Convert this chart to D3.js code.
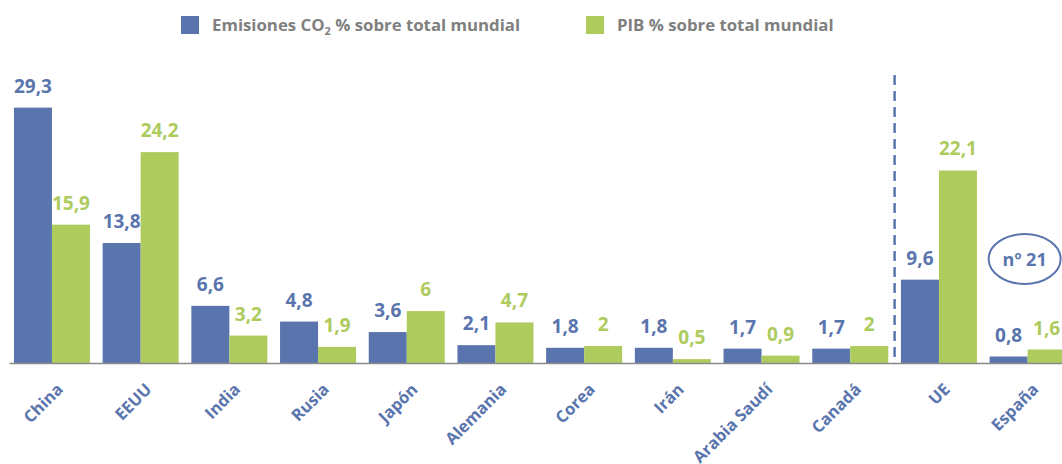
<!DOCTYPE html>
<html>
<head>
<meta charset="utf-8">
<script src="https://cdn.jsdelivr.net/npm/d3@7"></script>
<style>
  html, body { margin: 0; padding: 0; background: #ffffff; }
  svg { display: block; font-family: "Open Sans", "DejaVu Sans", sans-serif; }
</style>
</head>
<body>
<svg id="chart" width="1062" height="464"></svg>
<script>
// Emisiones de CO2 y PIB, % sobre el total mundial
const countries = ["China", "EEUU", "India", "Rusia", "Japón", "Alemania", "Corea", "Irán", "Arabia Saudí", "Canadá", "UE", "España"];
const co2 = [29.3, 13.8, 6.6, 4.8, 3.6, 2.1, 1.8, 1.8, 1.7, 1.7, 9.6, 0.8];
const pib = [15.9, 24.2, 3.2, 1.9, 6, 4.7, 2, 0.5, 0.9, 2, 22.1, 1.6];
const seriesKeys = ["co2", "pib"];
const seriesNames = ["Emisiones CO", "PIB % sobre total mundial"];
const rankLabel = "nº 21";

const BLUE = "#5a75ae";
const GREEN = "#aecb5e";
const colors = { co2: BLUE, pib: GREEN };

const rows = countries.map((c, i) => ({ country: c, co2: co2[i], pib: pib[i] }));

const svg = d3.select("#chart");
const baseline = 363.5;

const x = d3.scaleBand().domain(countries).range([7.6, 1072]).paddingInner(0.143).paddingOuter(0.0715);
const xs = d3.scaleBand().domain(seriesKeys).range([0, x.bandwidth()]);
const y = d3.scaleLinear().domain([0, 30]).range([baseline, baseline - 262]);

const fmt = v => String(v).replace(".", ",");

// bars
const groups = svg.append("g").selectAll("g")
  .data(rows).join("g")
  .attr("transform", d => `translate(${x(d.country)},0)`);

groups.selectAll("rect")
  .data(d => seriesKeys.map(k => ({ key: k, value: d[k] })))
  .join("rect")
  .attr("x", d => xs(d.key))
  .attr("y", d => y(d.value))
  .attr("width", xs.bandwidth())
  .attr("height", d => y(0) - y(d.value))
  .attr("fill", d => colors[d.key]);

// value labels
groups.selectAll("text")
  .data(d => seriesKeys.map(k => ({ key: k, value: d[k] })))
  .join("text")
  .attr("x", d => xs(d.key) + xs.bandwidth() / 2)
  .attr("y", d => y(d.value) - 15)
  .attr("text-anchor", "middle")
  .attr("font-size", 19)
  .attr("font-weight", 700)
  .attr("fill", d => colors[d.key])
  .text(d => fmt(d.value));

// baseline axis
const xAxis = d3.axisBottom(x).tickSize(0).tickPadding(0);
const axisG = svg.append("g").attr("transform", `translate(0,${baseline})`).call(xAxis);
axisG.select(".domain").attr("d", "M9.5,0H1062").attr("stroke", "#8a8a8a").attr("stroke-width", 1.5);
axisG.selectAll(".tick text")
  .attr("transform", "translate(12,27) rotate(-45)")
  .attr("text-anchor", "end")
  .attr("dy", 0)
  .attr("y", 0)
  .attr("font-family", "'Open Sans', sans-serif")
  .attr("font-size", 16.5)
  .attr("font-weight", 700)
  .attr("fill", BLUE);

// separator between countries and UE
const sepX = (x("Canadá") + x.bandwidth() + x("UE")) / 2;
svg.append("line")
  .attr("x1", sepX).attr("x2", sepX)
  .attr("y1", 75).attr("y2", baseline)
  .attr("stroke", BLUE).attr("stroke-width", 2.5)
  .attr("stroke-dasharray", "10,6");

// rank badge for España
const espX = x("España") + x.bandwidth() / 2;
const badge = svg.append("g").attr("transform", `translate(${espX - 3},259)`);
badge.append("ellipse").attr("rx", 36).attr("ry", 25)
  .attr("fill", "none").attr("stroke", BLUE).attr("stroke-width", 2);
badge.append("text").attr("text-anchor", "middle").attr("y", 6.5)
  .attr("font-size", 18).attr("font-weight", 700).attr("fill", BLUE)
  .text(rankLabel);

// legend
const legend = svg.append("g").attr("font-size", 16.8).attr("font-weight", 700).attr("fill", "#808080");
legend.append("rect").attr("x", 181).attr("y", 16).attr("width", 18).attr("height", 18).attr("fill", BLUE);
const t1 = legend.append("text").attr("x", 212).attr("y", 31);
t1.append("tspan").text(seriesNames[0]);
t1.append("tspan").attr("font-size", 11).attr("dy", 4).text("2");
t1.append("tspan").attr("dy", -4).text(" % sobre total mundial");
legend.append("rect").attr("x", 586).attr("y", 16).attr("width", 18).attr("height", 18).attr("fill", GREEN);
legend.append("text").attr("x", 617).attr("y", 31).text(seriesNames[1]);
</script>
</body>
</html>
